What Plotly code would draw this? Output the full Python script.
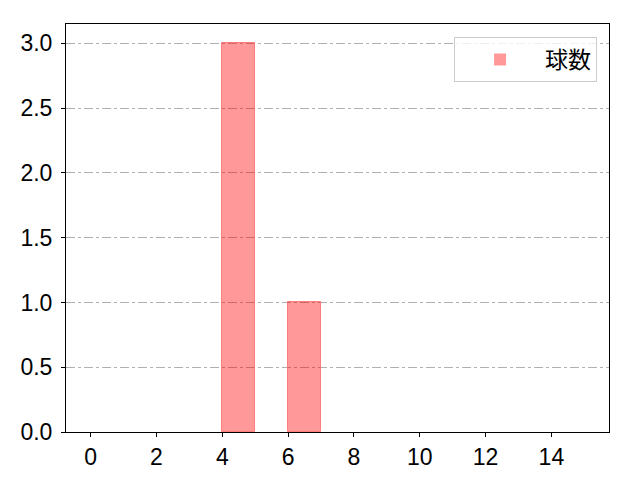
import plotly.graph_objects as go

# histogram bins (left edges) and counts
bin_left = list(range(15))
counts = [0, 0, 0, 0, 3, 0, 1, 0, 0, 0, 0, 0, 0, 0, 0]
series_name = '球数'
x_ticks = [0, 2, 4, 6, 8, 10, 12, 14]
y_ticks = [0.0, 0.5, 1.0, 1.5, 2.0, 2.5, 3.0]

# no edge on empty bins (matplotlib draws nothing there)
edge_cols = ['rgba(255, 90, 90, 0.7)' if c > 0 else 'rgba(0,0,0,0)' for c in counts]

fig = go.Figure()
fig.add_trace(go.Bar(
    x=[b + 0.5 for b in bin_left],
    y=counts,
    width=1,
    name=series_name,
    marker=dict(color='rgba(255, 0, 0, 0.4)',
                line=dict(color=edge_cols, width=1)),
    showlegend=True,
))

fig.update_layout(
    width=640, height=480,
    margin=dict(l=58, r=39, t=16, b=56),
    plot_bgcolor='white', paper_bgcolor='white',
    font=dict(family='Liberation Sans, Noto Sans CJK JP', size=23, color='black'),
    bargap=0,
    legend=dict(x=0.978, y=0.968, xanchor='right', yanchor='top',
                bordercolor='#cccccc', borderwidth=1,
                bgcolor='rgba(255,255,255,0.8)',
                itemwidth=80,
                font=dict(family='Noto Sans CJK JP', size=23)),
)
fig.update_xaxes(range=[-0.75, 15.75], tickvals=x_ticks,
                 ticktext=[str(t) for t in x_ticks],
                 showgrid=False, zeroline=False,
                 showline=True, mirror=True, linecolor='black', linewidth=1,
                 ticks='outside', ticklen=4, tickcolor='black')
fig.update_yaxes(range=[0, 3.15], tickvals=y_ticks,
                 ticktext=['%.1f' % t for t in y_ticks],
                 showgrid=True, gridcolor='#b0b0b0', griddash='dashdot', gridwidth=1,
                 zeroline=False, layer='above traces',
                 showline=True, mirror=True, linecolor='black', linewidth=1,
                 ticks='outside', ticklen=4, tickcolor='black',
                 ticklabelstandoff=4)

fig.write_html("out.html")
